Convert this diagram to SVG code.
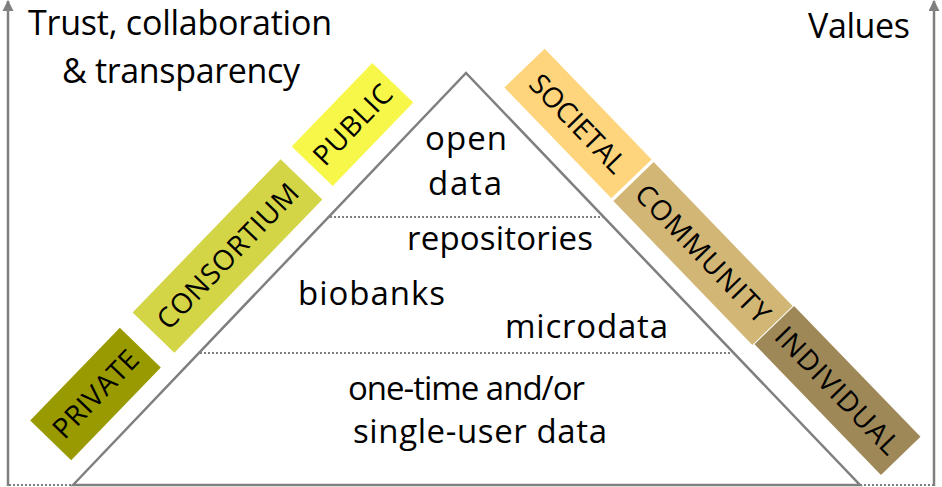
<svg xmlns="http://www.w3.org/2000/svg" width="942" height="487" viewBox="0 0 942 487">
<style>
.t{font-family:"Open Sans","Noto Sans",sans-serif;fill:#000}
.big{font-size:34px;text-anchor:middle}
.tri{font-size:33px;text-anchor:middle}
.box{font-size:28px;text-anchor:middle}
.ax{stroke:#7f7f7f;stroke-width:2.5;fill:none}
.dot{stroke:#7f7f7f;stroke-width:2;stroke-dasharray:2 2;fill:none}
</style>
<defs>
<marker id="ah" viewBox="0 0 10 10" refX="9" refY="5" markerWidth="4.4" markerHeight="4.4" orient="auto" markerUnits="strokeWidth">
<path d="M0,0 L10,5 L0,10 Z" fill="#7f7f7f"/>
</marker>
</defs>
<g id="connectors">
<line class="ax" x1="8" y1="486" x2="8" y2="1" marker-end="url(#ah)"/>
<line class="ax" x1="934" y1="486" x2="934" y2="1" marker-end="url(#ah)"/>
<line class="dot" x1="9" y1="485" x2="73" y2="485"/>
<line class="dot" x1="860" y1="485" x2="933" y2="485"/>
<line class="dot" x1="330" y1="217" x2="603" y2="217"/>
<line class="dot" x1="200" y1="353" x2="732" y2="353"/>
</g>
<g id="triangle">
<path d="M73,485 L466,73 L860,485 Z" fill="none" stroke="#7f7f7f" stroke-width="2.5" stroke-linejoin="miter"/>
</g>
<g id="axis-left-label">
<text class="t big" x="180" y="35" textLength="304">Trust, collaboration</text>
<text class="t big" x="181" y="83" textLength="238">&amp; transparency</text>
</g>
<g id="axis-right-label">
<text class="t big" x="859" y="38" textLength="102">Values</text>
</g>
<g id="open-data">
<text class="t tri" x="466" y="150" textLength="82">open</text>
<text class="t tri" x="465" y="195" textLength="74">data</text>
</g>
<g id="repositories"><text class="t tri" x="500" y="250" textLength="186">repositories</text></g>
<g id="biobanks"><text class="t tri" x="371.5" y="305" textLength="147">biobanks</text></g>
<g id="microdata"><text class="t tri" x="586.5" y="338" textLength="163">microdata</text></g>
<g id="one-time">
<text class="t tri" x="466.5" y="400" textLength="237">one-time and/or</text>
<text class="t tri" x="480" y="443" textLength="254">single-user data</text>
</g>
<g id="private" transform="translate(95.5,394) rotate(-46)">
<rect x="-64.5" y="-28.5" width="129" height="57" fill="#999900"/>
<text class="t box" x="0" y="10" textLength="110">PRIVATE</text>
</g>
<g id="consortium" transform="translate(227.5,256) rotate(-46)">
<rect x="-106.5" y="-29" width="213" height="58" fill="#d4d447"/>
<text class="t box" x="0" y="10" textLength="190">CONSORTIUM</text>
</g>
<g id="public" transform="translate(352.5,124.5) rotate(-46)">
<rect x="-58" y="-28.5" width="116" height="57" fill="#f7f74a"/>
<text class="t box" x="0" y="10" textLength="100">PUBLIC</text>
</g>
<g id="societal" transform="translate(578,123.5) rotate(46)">
<rect x="-77" y="-28" width="154" height="56" fill="#fed57d"/>
<text class="t box" x="0" y="10" textLength="125">SOCIETAL</text>
</g>
<g id="community" transform="translate(703,253.5) rotate(46)">
<rect x="-100" y="-28" width="200" height="56" fill="#d1b676"/>
<text class="t box" x="0" y="10" textLength="180">COMMUNITY</text>
</g>
<g id="individual" transform="translate(837.5,390.5) rotate(46)">
<rect x="-91" y="-27.5" width="182" height="55" fill="#9e8858"/>
<text class="t box" x="0" y="10" textLength="165">INDIVIDUAL</text>
</g>
</svg>
